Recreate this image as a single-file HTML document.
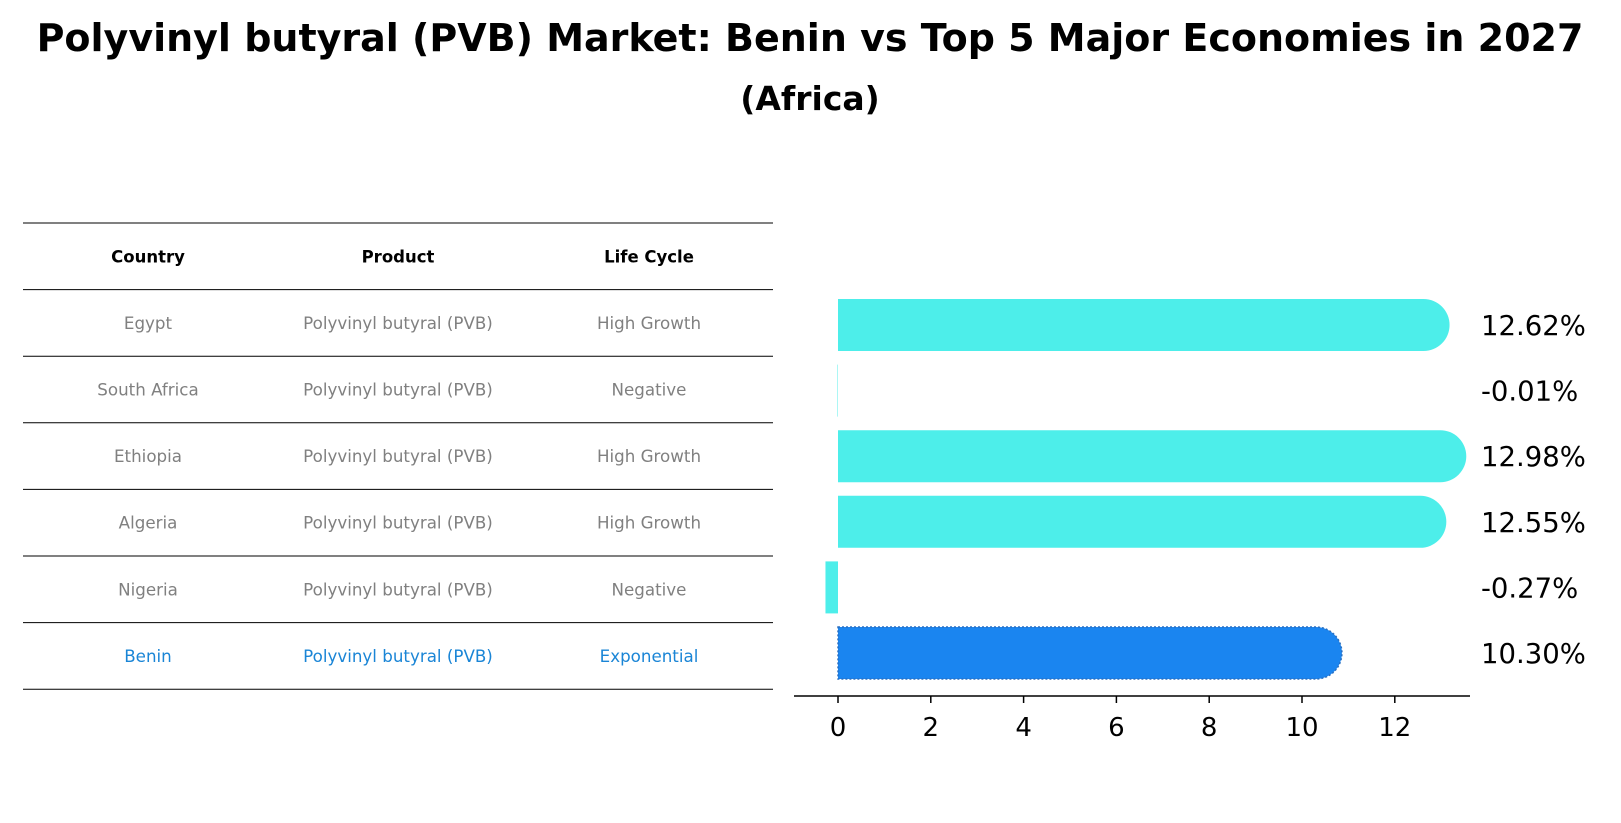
<!DOCTYPE html>
<html><head><meta charset="utf-8"><style>
html,body{margin:0;padding:0;background:#fff;width:1621px;height:823px;overflow:hidden}
svg{display:block}
</style></head><body>
<svg id="chart" width="1621" height="823" xmlns="http://www.w3.org/2000/svg" font-family="'DejaVu Sans','Liberation Sans',sans-serif">
<text x="810" y="51" text-anchor="middle" font-size="38" font-weight="bold">Polyvinyl butyral (PVB) Market: Benin vs Top 5 Major Economies in 2027</text>
<text x="810" y="110" text-anchor="middle" font-size="33" font-weight="bold">(Africa)</text>
<g id="table"></g>
<g id="bars"></g>
</svg>
<script>
const countries = ["Egypt","South Africa","Ethiopia","Algeria","Nigeria","Benin"];
const products = ["Polyvinyl butyral (PVB)","Polyvinyl butyral (PVB)","Polyvinyl butyral (PVB)","Polyvinyl butyral (PVB)","Polyvinyl butyral (PVB)","Polyvinyl butyral (PVB)"];
const lifeCycles = ["High Growth","Negative","High Growth","High Growth","Negative","Exponential"];
const growth = [12.62,-0.01,12.98,12.55,-0.27,10.30];
const xTicks = [0,2,4,6,8,10,12];
const highlight = "Benin";

const NS="http://www.w3.org/2000/svg";
function mk(tag,attrs,parent){const e=document.createElementNS(NS,tag);for(const k in attrs)e.setAttribute(k,attrs[k]);parent.appendChild(e);return e;}

// table
const tbl=document.getElementById('table');
const rowTop=223, rowH=66.6, colX=[148,398,649];
for(let i=0;i<=countries.length+1;i++){
  const y=rowTop+i*rowH;
  const l=mk('line',{x1:23,x2:773,y1:y,y2:y,stroke:'#000','stroke-width':1},tbl);
  
  
}
const heads=["Country","Product","Life Cycle"];
heads.forEach((h,j)=>{
  const t=mk('text',{x:colX[j],y:rowTop+rowH/2+6,'text-anchor':'middle','font-size':16.5,'font-weight':'bold'},tbl);
  t.textContent=h;
  
  
});
countries.forEach((c,i)=>{
  const y=rowTop+(i+1)*rowH+rowH/2+6;
  const col=c===highlight?'#1a85d6':'#808080';
  [c,products[i],lifeCycles[i]].forEach((v,j)=>{
    const t=mk('text',{x:colX[j],y:y,'text-anchor':'middle','font-size':16.7,fill:col},tbl);
    t.textContent=v;
    
    
  });
});

// bars
const g=document.getElementById('bars');
const x0=838, pxPerUnit=46.4;
const xs=v=>x0+v*pxPerUnit;
const barTop=299, barStep=65.6, barH=52;
growth.forEach((v,i)=>{
  const y=barTop+i*barStep;
  const isH=countries[i]===highlight;
  const fill=isH?'#1a85f0':'#4deeea';
  const xa=Math.min(xs(0),xs(v)), xb=Math.max(xs(0),xs(v));
  let el;
  if(v>0){
    const r=barH/2;
    const d=`M${xa},${y} L${xb},${y} A${r},${r} 0 0 1 ${xb},${y+barH} L${xa},${y+barH} Z`;
    el=mk('path',{d:d,fill:fill},g);
    if(isH){el.setAttribute('stroke','#2a6fc0');el.setAttribute('stroke-width','1.5');el.setAttribute('stroke-dasharray','2,2');}
  } else {
    el=mk('rect',{x:xa,y:y,width:xb-xa,height:barH,fill:fill},g);
  }
  
  
  const t=mk('text',{x:1481,y:y+barH/2+10,'font-size':27.5,fill:'#000'},g);
  t.textContent=v.toFixed(2)+'%';
  
  
});
const axY=696;
const ax=mk('line',{x1:794,x2:1470,y1:axY,y2:axY,stroke:'#000','stroke-width':1.5},g);


xTicks.forEach(v=>{
  const tk=mk('line',{x1:xs(v),x2:xs(v),y1:axY,y2:axY+7,stroke:'#000','stroke-width':1.5},g);
  
  
  const t=mk('text',{x:xs(v),y:axY+40,'text-anchor':'middle','font-size':26},g);
  t.textContent=v;
  
  
});
</script>
</body></html>
